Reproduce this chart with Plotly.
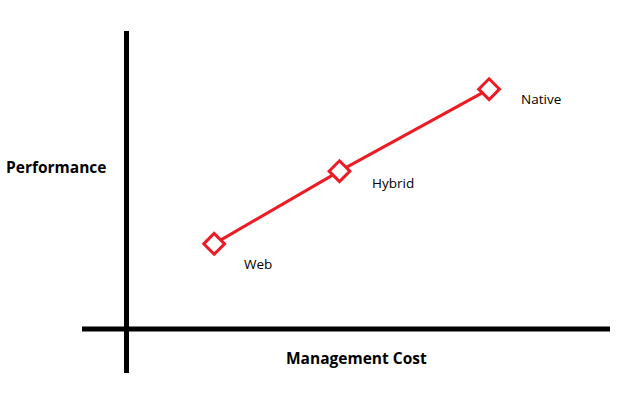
import plotly.graph_objects as go

# Data (abstract units)
approaches = ["Web", "Hybrid", "Native"]
management_cost = [2.05, 5.0, 8.52]
performance = [1.98, 3.69, 5.62]
x_title = "Management Cost"
y_title = "Performance"

# label offsets in pixels (style)
label_dx = [44, 53, 52]
label_dy = [-20, -12, -10]

RED = "#ED1C24"
U = 42.5  # px per unit
W, H = 625, 400
ox, oy = 127, 328

fig = go.Figure()
fig.add_trace(go.Scatter(
    x=management_cost, y=performance, mode="lines+markers",
    line=dict(color=RED, width=3),
    marker=dict(symbol="diamond", size=16, color="white",
                line=dict(color=RED, width=3)),
    hoverinfo="skip", showlegend=False,
))

for name, cx, cy, dx, dy in zip(approaches, management_cost, performance, label_dx, label_dy):
    fig.add_annotation(x=cx, y=cy, text=name, showarrow=False,
                       xshift=dx, yshift=dy, xanchor="center", yanchor="middle",
                       font=dict(family="Open Sans", size=13.5, color="#000"))

# axis lines (crossing)
fig.add_shape(type="line", x0=(82 - ox) / U, x1=(610 - ox) / U, y0=-1 / U, y1=-1 / U,
              line=dict(color="black", width=5), layer="below")
fig.add_shape(type="line", x0=-0.5 / U, x1=-0.5 / U, y0=(oy - 31) / U, y1=(oy - 373) / U,
              line=dict(color="black", width=5), layer="below")

fig.add_annotation(xref="paper", yref="paper", x=56 / W, y=1 - 167 / H, text=f"<b>{y_title}</b>",
                   showarrow=False, xanchor="center", yanchor="middle",
                   font=dict(family="Open Sans", size=15.5, color="#000"))
fig.add_annotation(xref="paper", yref="paper", x=356 / W, y=1 - 358 / H, text=f"<b>{x_title}</b>",
                   showarrow=False, xanchor="center", yanchor="middle",
                   font=dict(family="Open Sans", size=15.5, color="#000"))

fig.update_layout(
    width=W, height=H, margin=dict(l=0, r=0, t=0, b=0),
    paper_bgcolor="white", plot_bgcolor="white",
    xaxis=dict(range=[-ox / U, (W - ox) / U], visible=False, fixedrange=True),
    yaxis=dict(range=[(oy - H) / U, oy / U], visible=False, fixedrange=True),
)
fig.write_html("out.html")
